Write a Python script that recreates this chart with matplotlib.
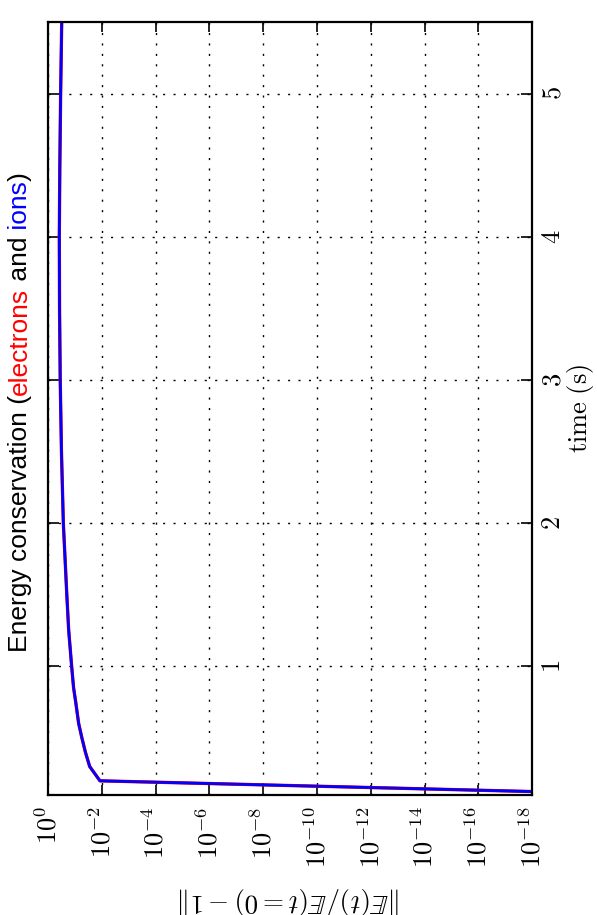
import numpy as np
import matplotlib
matplotlib.use("Agg")
import matplotlib.pyplot as plt

# relative energy error vs time
time_s = [0.125, 0.2, 0.3, 0.4, 0.5, 0.6, 0.75, 0.85, 1.0, 1.25, 1.5,
          2.0, 2.5, 3.0, 3.5, 4.0, 4.5, 5.0, 5.5]
err_electrons = [1e-18, 0.0117, 0.0282, 0.0407, 0.055, 0.0724, 0.0933, 0.112,
                 0.132, 0.170, 0.200, 0.269, 0.316, 0.351, 0.372, 0.380,
                 0.363, 0.339, 0.309]
err_ions = [1e-18, 0.0117, 0.0282, 0.0407, 0.055, 0.0724, 0.0933, 0.112,
            0.132, 0.170, 0.200, 0.269, 0.316, 0.351, 0.372, 0.380,
            0.363, 0.339, 0.309]

err_ticks = [10.0 ** -k for k in range(0, 20, 2)]
err_ticklabels = ["$10^{%d}$" % -k for k in range(0, 20, 2)]
time_ticks = [1, 2, 3, 4, 5]

title_parts = ["Energy conservation (", "electrons", " and", " ions", ")"]
title_colors = ["black", "red", "black", "blue", "black"]

plt.rcParams['mathtext.fontset'] = 'cm'
plt.rcParams['font.family'] = 'serif'
plt.rcParams['font.serif'] = ['DejaVu Serif']

fig = plt.figure(figsize=(5.97, 9.15), dpi=100)
ax = fig.add_axes([0.0804, 0.131, 0.811, 0.845])

# plot is laid out sideways: error runs along x (reversed), time runs up
ax.plot(err_electrons, time_s, color='red', lw=2.4)
ax.plot(err_ions, time_s, color='blue', lw=2.0)

ax.set_xscale('log')
ax.set_xlim(1e0, 1e-18)
ax.set_ylim(0.1, 5.5)
ax.minorticks_off()

ax.set_xticks(err_ticks)
ax.set_xticklabels(err_ticklabels, rotation=90, fontsize=19)
ax.set_yticks(time_ticks)
ax.set_yticklabels(["$%d$" % t for t in time_ticks], rotation=90, fontsize=19,
                   va='center')

ax.tick_params(axis='x', which='both', direction='in', top=True, bottom=True,
               length=7, width=1.2, pad=8)
ax.tick_params(axis='y', which='both', direction='in', left=True, right=True,
               labelleft=False, labelright=True, length=8, width=1.2, pad=6)

ax.grid(True, color='black', linestyle=(0, (1.5, 6)), lw=1.0)
for sp in ax.spines.values():
    sp.set_linewidth(1.6)

ax.set_xlabel(r"$\Vert\mathbb{E}(t)/\mathbb{E}(t=0)-1\Vert$", fontsize=19.5,
              rotation=180, labelpad=12)
ax.yaxis.set_label_position('right')
ax.set_ylabel(r"$\mathrm{time\ (s)}$", fontsize=19, rotation=90, labelpad=0)

# multicoloured title running up the left side
txt = ax.annotate(title_parts[0], xy=(0.013, 0.287), xycoords='figure fraction',
                  rotation=90, va='bottom', ha='left', color=title_colors[0],
                  fontsize=19, family='Liberation Sans')
for part, col in zip(title_parts[1:], title_colors[1:]):
    txt = ax.annotate(part, xy=(0, 1), xycoords=txt, rotation=90, va='bottom',
                      ha='left', color=col, fontsize=19,
                      family='Liberation Sans')

fig.savefig('out.png', dpi=100)
